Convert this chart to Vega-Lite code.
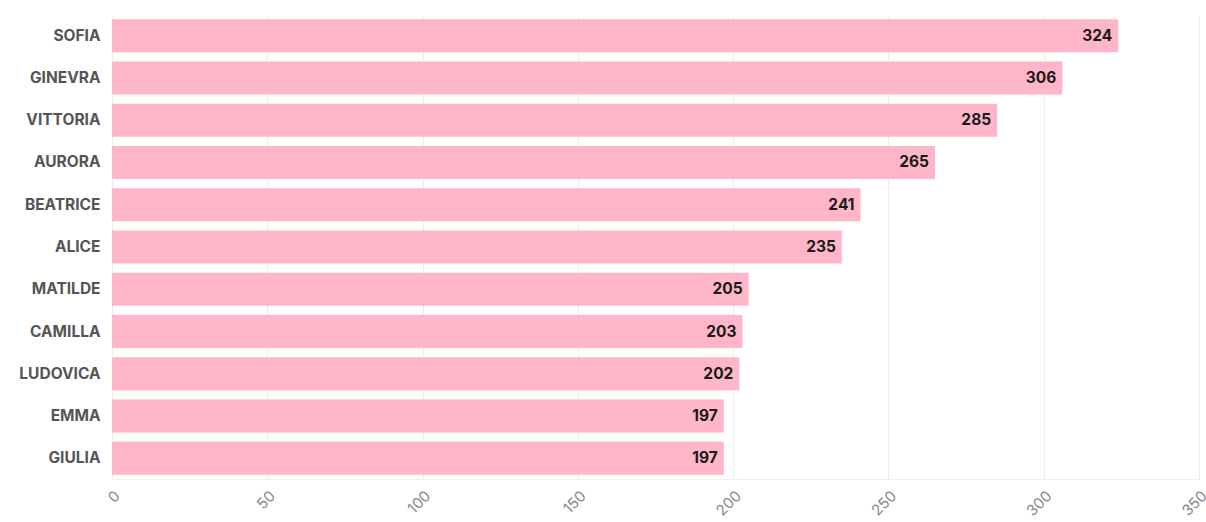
{
  "$schema": "https://vega.github.io/schema/vega-lite/v6.json",
  "width": 1087,
  "height": 464,
  "autosize": {"type": "none"},
  "padding": {"left": 112, "top": 15, "right": 7, "bottom": 43},
  "background": "white",
  "data": {"values": [
    {"name": "SOFIA", "value": 324},
    {"name": "GINEVRA", "value": 306},
    {"name": "VITTORIA", "value": 285},
    {"name": "AURORA", "value": 265},
    {"name": "BEATRICE", "value": 241},
    {"name": "ALICE", "value": 235},
    {"name": "MATILDE", "value": 205},
    {"name": "CAMILLA", "value": 203},
    {"name": "LUDOVICA", "value": 202},
    {"name": "EMMA", "value": 197},
    {"name": "GIULIA", "value": 197}
  ]},
  "config": {
    "view": {"stroke": null},
    "font": "Inter"
  },
  "encoding": {
    "y": {
      "field": "name", "type": "nominal", "sort": null, "title": null,
      "scale": {"paddingInner": 0.22, "paddingOuter": 0.1},
      "axis": {"ticks": false, "domain": false, "labelPadding": 12, "labelFontSize": 15.5, "labelFontWeight": "bold", "labelColor": "#555555", "labelFont": "Inter"}
    },
    "x": {
      "field": "value", "type": "quantitative", "title": null,
      "scale": {"domain": [0, 350], "nice": false},
      "axis": {"values": [0, 50, 100, 150, 200, 250, 300, 350], "labelAngle": -45, "labelFontSize": 15, "labelColor": "#888888", "labelFont": "Inter", "ticks": false, "domainColor": "#eeeeee", "gridColor": "#ececec", "labelPadding": 9}
    }
  },
  "layer": [
    {"mark": {"type": "bar", "color": "#FFB6C8"}},
    {"mark": {"type": "text", "align": "right", "dx": -6, "baseline": "middle", "fontSize": 15.5, "fontWeight": "bold", "color": "#1a1a1a", "font": "Inter"},
     "encoding": {"text": {"field": "value", "type": "quantitative"}}}
  ]
}
